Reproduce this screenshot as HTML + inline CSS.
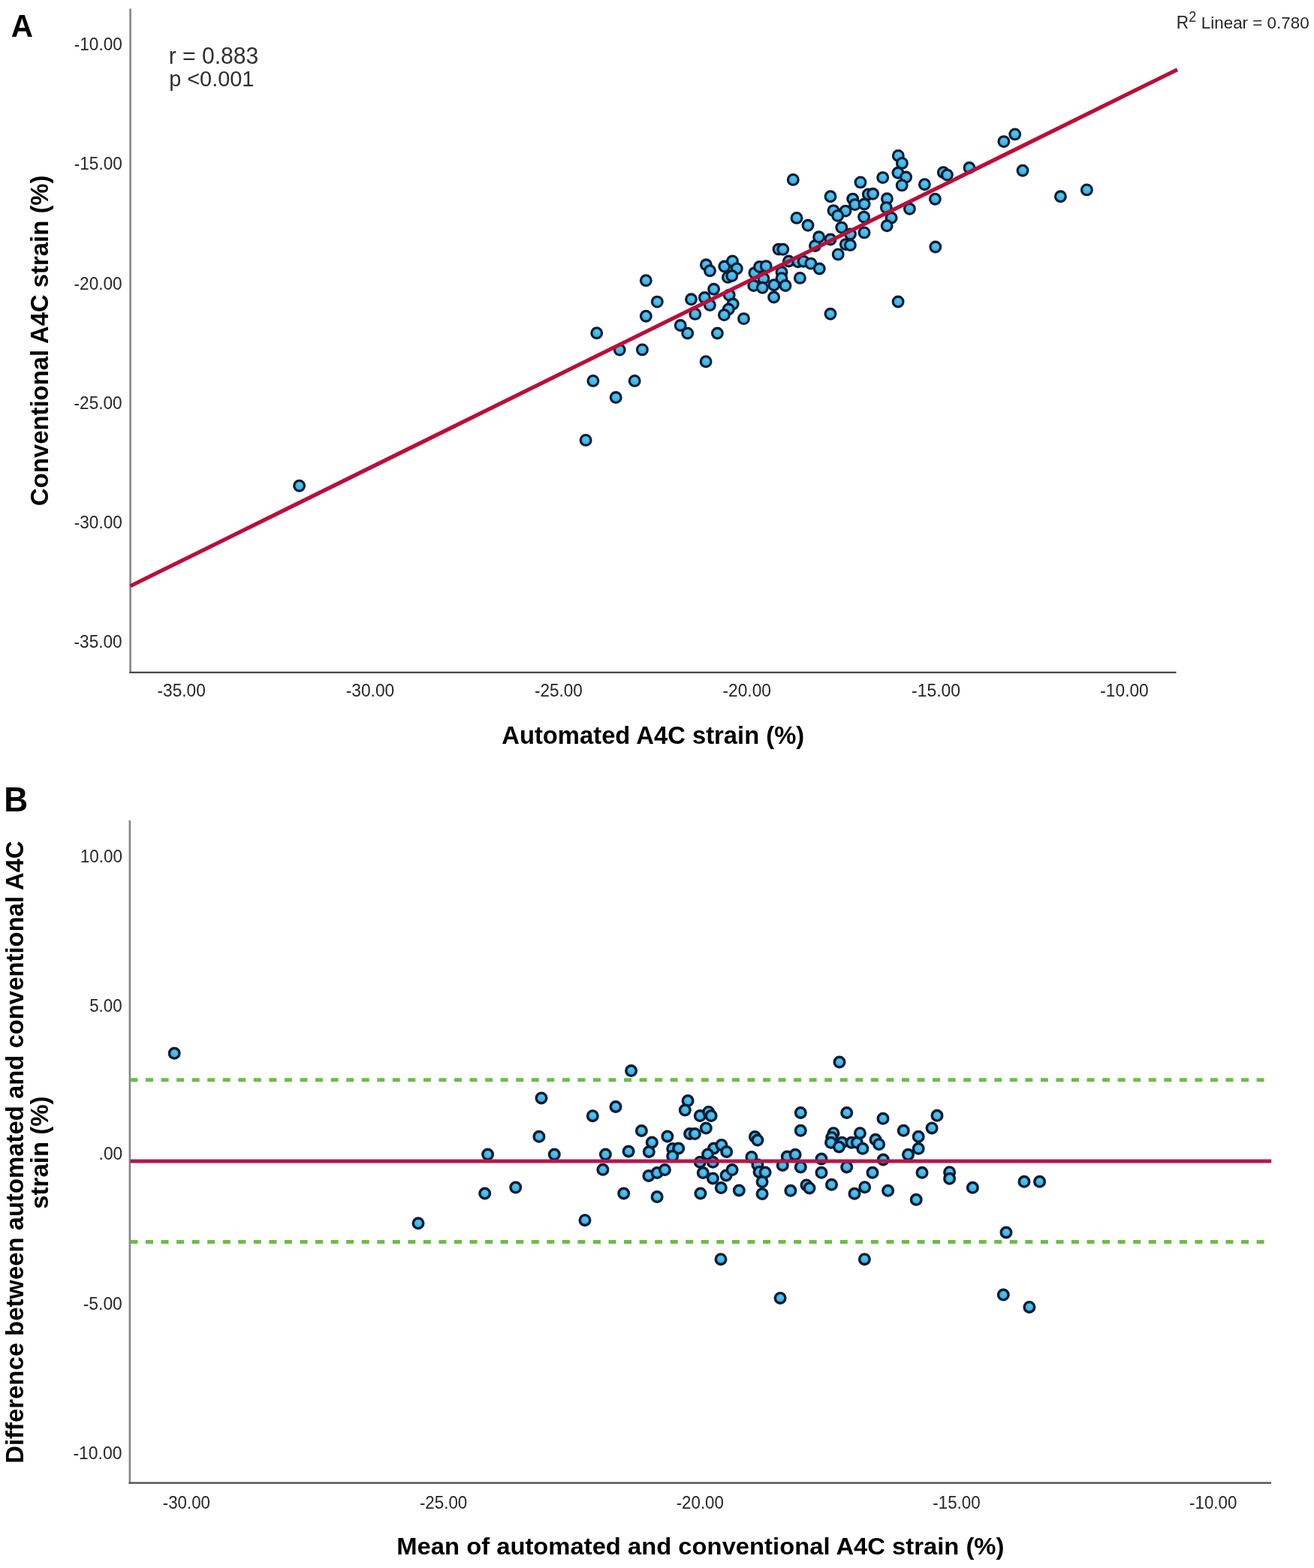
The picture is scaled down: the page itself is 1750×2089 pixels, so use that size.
<!DOCTYPE html>
<html><head><meta charset="utf-8"><title>Automated vs conventional A4C strain</title>
<style>
html,body{margin:0;padding:0;background:#fff;}
body{width:1750px;height:2089px;overflow:hidden;}
svg{display:block;}
svg text{font-family:'Liberation Sans', Arial, Helvetica, sans-serif;}
circle{fill:url(#dg);stroke:#071b33;stroke-width:3.1;}
circle.b{stroke-width:3.4;}
</style></head>
<body>
<svg width="1750" height="2089" viewBox="0 0 1750 2089">
<defs><radialGradient id="dg" cx="0.55" cy="0.38" r="0.62"><stop offset="0" stop-color="#55c7ef"/><stop offset="1" stop-color="#2fa8de"/></radialGradient></defs>
<rect width="1750" height="2089" fill="#fff"/>
<line x1="173.6" y1="11.5" x2="173.6" y2="897" stroke="#86868a" stroke-width="2.6"/>
<line x1="172.29999999999998" y1="895.9" x2="1566.5" y2="895.9" stroke="#48484c" stroke-width="2.2"/>
<circle cx="398.6" cy="647.2" r="6.9"/>
<circle cx="780.1" cy="586.4" r="6.9"/>
<circle cx="789.9" cy="507.4" r="6.9"/>
<circle cx="794.7" cy="443.7" r="6.9"/>
<circle cx="820.2" cy="529.5" r="6.9"/>
<circle cx="825.2" cy="466.1" r="6.9"/>
<circle cx="845.2" cy="507.4" r="6.9"/>
<circle cx="855.4" cy="465.9" r="6.9"/>
<circle cx="860.3" cy="373.7" r="6.9"/>
<circle cx="860.3" cy="421.2" r="6.9"/>
<circle cx="875.3" cy="402.1" r="6.9"/>
<circle cx="906.2" cy="433.5" r="6.9"/>
<circle cx="915.7" cy="444" r="6.9"/>
<circle cx="920.5" cy="398.8" r="6.9"/>
<circle cx="925.8" cy="418.4" r="6.9"/>
<circle cx="938.4" cy="396.5" r="6.9"/>
<circle cx="940.1" cy="481.7" r="6.9"/>
<circle cx="945.4" cy="406.5" r="6.9"/>
<circle cx="950.6" cy="385.3" r="6.9"/>
<circle cx="955.4" cy="444" r="6.9"/>
<circle cx="940.4" cy="352.8" r="6.9"/>
<circle cx="945.5" cy="360.7" r="6.9"/>
<circle cx="964.8" cy="355" r="6.9"/>
<circle cx="975.5" cy="347.9" r="6.9"/>
<circle cx="981.3" cy="357.9" r="6.9"/>
<circle cx="969.4" cy="369.4" r="6.9"/>
<circle cx="974.8" cy="367.5" r="6.9"/>
<circle cx="971.2" cy="393.1" r="6.9"/>
<circle cx="976.2" cy="405" r="6.9"/>
<circle cx="970.3" cy="412" r="6.9"/>
<circle cx="964.4" cy="419.6" r="6.9"/>
<circle cx="990.5" cy="424.6" r="6.9"/>
<circle cx="1004.9" cy="363.6" r="6.9"/>
<circle cx="1011.5" cy="355.5" r="6.9"/>
<circle cx="1020.2" cy="354.6" r="6.9"/>
<circle cx="1016.9" cy="371.1" r="6.9"/>
<circle cx="1003.8" cy="380.5" r="6.9"/>
<circle cx="1015.4" cy="383.3" r="6.9"/>
<circle cx="1030.8" cy="379.7" r="6.9"/>
<circle cx="1030.6" cy="396" r="6.9"/>
<circle cx="1041" cy="362.5" r="6.9"/>
<circle cx="1041" cy="370.7" r="6.9"/>
<circle cx="1046" cy="380.5" r="6.9"/>
<circle cx="1037" cy="332.1" r="6.9"/>
<circle cx="1042.8" cy="332.3" r="6.9"/>
<circle cx="1050.5" cy="348" r="6.9"/>
<circle cx="1062.7" cy="348.7" r="6.9"/>
<circle cx="1070.1" cy="348.2" r="6.9"/>
<circle cx="1079.8" cy="351.1" r="6.9"/>
<circle cx="1091.3" cy="358" r="6.9"/>
<circle cx="1065.4" cy="370.4" r="6.9"/>
<circle cx="1106" cy="418.3" r="6.9"/>
<circle cx="1116.2" cy="338.9" r="6.9"/>
<circle cx="1126.3" cy="325.6" r="6.9"/>
<circle cx="1132.4" cy="326.5" r="6.9"/>
<circle cx="1106" cy="319" r="6.9"/>
<circle cx="1085.5" cy="327.5" r="6.9"/>
<circle cx="1090.6" cy="315.8" r="6.9"/>
<circle cx="1061" cy="290.4" r="6.9"/>
<circle cx="1076" cy="300.3" r="6.9"/>
<circle cx="1056.3" cy="239.4" r="6.9"/>
<circle cx="1106" cy="261.7" r="6.9"/>
<circle cx="1146" cy="242.9" r="6.9"/>
<circle cx="1175.7" cy="236.6" r="6.9"/>
<circle cx="1196.3" cy="207.4" r="6.9"/>
<circle cx="1201.4" cy="217.4" r="6.9"/>
<circle cx="1195.9" cy="230.3" r="6.9"/>
<circle cx="1206.6" cy="236" r="6.9"/>
<circle cx="1201.2" cy="246.9" r="6.9"/>
<circle cx="1231.4" cy="245.7" r="6.9"/>
<circle cx="1245.4" cy="265.2" r="6.9"/>
<circle cx="1211.4" cy="278.3" r="6.9"/>
<circle cx="1181.4" cy="264.8" r="6.9"/>
<circle cx="1180.3" cy="276.6" r="6.9"/>
<circle cx="1187.1" cy="290.3" r="6.9"/>
<circle cx="1181.2" cy="300.8" r="6.9"/>
<circle cx="1156.3" cy="258.9" r="6.9"/>
<circle cx="1162.6" cy="258.3" r="6.9"/>
<circle cx="1135.7" cy="265.1" r="6.9"/>
<circle cx="1138.6" cy="272.6" r="6.9"/>
<circle cx="1151.1" cy="272" r="6.9"/>
<circle cx="1126" cy="281.1" r="6.9"/>
<circle cx="1110" cy="280.6" r="6.9"/>
<circle cx="1115.7" cy="287.4" r="6.9"/>
<circle cx="1150.6" cy="289.1" r="6.9"/>
<circle cx="1120.8" cy="303.1" r="6.9"/>
<circle cx="1151" cy="309.9" r="6.9"/>
<circle cx="1132.5" cy="311.9" r="6.9"/>
<circle cx="1245.8" cy="329" r="6.9"/>
<circle cx="1196.1" cy="402" r="6.9"/>
<circle cx="1256.3" cy="229.7" r="6.9"/>
<circle cx="1261.4" cy="233.1" r="6.9"/>
<circle cx="1291" cy="223.5" r="6.9"/>
<circle cx="1336.9" cy="188.6" r="6.9"/>
<circle cx="1351.7" cy="178.9" r="6.9"/>
<circle cx="1362" cy="227.2" r="6.9"/>
<circle cx="1412.4" cy="261.8" r="6.9"/>
<circle cx="1447.4" cy="252.9" r="6.9"/>
<line x1="173.6" y1="780.73" x2="1568" y2="92.73" stroke="#bb0e38" stroke-width="5.2"/>
<line x1="172.9" y1="1093" x2="172.9" y2="1977" stroke="#86868a" stroke-width="2.6"/>
<line x1="171.6" y1="1975.7" x2="1693" y2="1975.7" stroke="#48484c" stroke-width="2.2"/>
<line x1="173.45" y1="1438.8" x2="1683.6" y2="1438.8" stroke="#6cbd45" stroke-width="5" stroke-dasharray="10 10.55"/>
<line x1="173.45" y1="1654.5" x2="1683.6" y2="1654.5" stroke="#6cbd45" stroke-width="5" stroke-dasharray="10 10.55"/>
<circle class="b" cx="232.2" cy="1403.3" r="6.8"/>
<circle class="b" cx="557" cy="1629.8" r="6.8"/>
<circle class="b" cx="645.7" cy="1590" r="6.8"/>
<circle class="b" cx="649.6" cy="1538.1" r="6.8"/>
<circle class="b" cx="686.7" cy="1582.1" r="6.8"/>
<circle class="b" cx="717.9" cy="1514.3" r="6.8"/>
<circle class="b" cx="721" cy="1462.9" r="6.8"/>
<circle class="b" cx="738.3" cy="1538.1" r="6.8"/>
<circle class="b" cx="779" cy="1625.7" r="6.8"/>
<circle class="b" cx="789.3" cy="1486.7" r="6.8"/>
<circle class="b" cx="802.9" cy="1558.3" r="6.8"/>
<circle class="b" cx="806.4" cy="1538.1" r="6.8"/>
<circle class="b" cx="820" cy="1474.5" r="6.8"/>
<circle class="b" cx="830.7" cy="1590" r="6.8"/>
<circle class="b" cx="837.1" cy="1534" r="6.8"/>
<circle class="b" cx="840.6" cy="1426.6" r="6.8"/>
<circle class="b" cx="854.4" cy="1506.5" r="6.8"/>
<circle class="b" cx="864.3" cy="1534.5" r="6.8"/>
<circle class="b" cx="868.3" cy="1522" r="6.8"/>
<circle class="b" cx="863.9" cy="1566.5" r="6.8"/>
<circle class="b" cx="875.1" cy="1562.6" r="6.8"/>
<circle class="b" cx="885.4" cy="1558.6" r="6.8"/>
<circle class="b" cx="875.1" cy="1594.6" r="6.8"/>
<circle class="b" cx="888.9" cy="1514" r="6.8"/>
<circle class="b" cx="895.7" cy="1530.6" r="6.8"/>
<circle class="b" cx="903.7" cy="1530" r="6.8"/>
<circle class="b" cx="895.7" cy="1540.3" r="6.8"/>
<circle class="b" cx="916.1" cy="1466.6" r="6.8"/>
<circle class="b" cx="912.3" cy="1479.1" r="6.8"/>
<circle class="b" cx="932.3" cy="1486.6" r="6.8"/>
<circle class="b" cx="943.7" cy="1481.4" r="6.8"/>
<circle class="b" cx="947.1" cy="1486.6" r="6.8"/>
<circle class="b" cx="940.3" cy="1503.1" r="6.8"/>
<circle class="b" cx="918.6" cy="1510.6" r="6.8"/>
<circle class="b" cx="925.4" cy="1510.6" r="6.8"/>
<circle class="b" cx="950.6" cy="1530" r="6.8"/>
<circle class="b" cx="960.9" cy="1525.4" r="6.8"/>
<circle class="b" cx="967.7" cy="1534.6" r="6.8"/>
<circle class="b" cx="942.6" cy="1538" r="6.8"/>
<circle class="b" cx="949.4" cy="1548.3" r="6.8"/>
<circle class="b" cx="932.3" cy="1548.3" r="6.8"/>
<circle class="b" cx="936.3" cy="1562.6" r="6.8"/>
<circle class="b" cx="949.4" cy="1570" r="6.8"/>
<circle class="b" cx="967.1" cy="1566" r="6.8"/>
<circle class="b" cx="975.1" cy="1558.6" r="6.8"/>
<circle class="b" cx="960.3" cy="1582.6" r="6.8"/>
<circle class="b" cx="984.3" cy="1586" r="6.8"/>
<circle class="b" cx="932.9" cy="1590" r="6.8"/>
<circle class="b" cx="960" cy="1677.7" r="6.8"/>
<circle class="b" cx="1005.4" cy="1514.6" r="6.8"/>
<circle class="b" cx="1008.9" cy="1519.1" r="6.8"/>
<circle class="b" cx="1000.9" cy="1541.4" r="6.8"/>
<circle class="b" cx="1008.9" cy="1551.7" r="6.8"/>
<circle class="b" cx="1011.1" cy="1561.4" r="6.8"/>
<circle class="b" cx="1019.1" cy="1562" r="6.8"/>
<circle class="b" cx="1015.1" cy="1574.6" r="6.8"/>
<circle class="b" cx="1015.1" cy="1590.6" r="6.8"/>
<circle class="b" cx="1039.1" cy="1729.4" r="6.8"/>
<circle class="b" cx="1048.3" cy="1541" r="6.8"/>
<circle class="b" cx="1042.3" cy="1552.5" r="6.8"/>
<circle class="b" cx="1059.1" cy="1538.3" r="6.8"/>
<circle class="b" cx="1066.3" cy="1482.5" r="6.8"/>
<circle class="b" cx="1066.3" cy="1506.3" r="6.8"/>
<circle class="b" cx="1066.3" cy="1554.9" r="6.8"/>
<circle class="b" cx="1052.9" cy="1586.3" r="6.8"/>
<circle class="b" cx="1074" cy="1578.9" r="6.8"/>
<circle class="b" cx="1078" cy="1582.9" r="6.8"/>
<circle class="b" cx="1094" cy="1544" r="6.8"/>
<circle class="b" cx="1094" cy="1562.3" r="6.8"/>
<circle class="b" cx="1107.5" cy="1578.3" r="6.8"/>
<circle class="b" cx="1110" cy="1509.7" r="6.8"/>
<circle class="b" cx="1107.7" cy="1515.4" r="6.8"/>
<circle class="b" cx="1106.6" cy="1522.3" r="6.8"/>
<circle class="b" cx="1121.4" cy="1522.3" r="6.8"/>
<circle class="b" cx="1117.4" cy="1528" r="6.8"/>
<circle class="b" cx="1118" cy="1415.1" r="6.8"/>
<circle class="b" cx="1127.7" cy="1482.5" r="6.8"/>
<circle class="b" cx="1127.7" cy="1554.9" r="6.8"/>
<circle class="b" cx="1134" cy="1522.3" r="6.8"/>
<circle class="b" cx="1141.4" cy="1522.3" r="6.8"/>
<circle class="b" cx="1145.4" cy="1509.7" r="6.8"/>
<circle class="b" cx="1148.9" cy="1530.3" r="6.8"/>
<circle class="b" cx="1138" cy="1590.3" r="6.8"/>
<circle class="b" cx="1151.7" cy="1581.7" r="6.8"/>
<circle class="b" cx="1151.4" cy="1677.7" r="6.8"/>
<circle class="b" cx="1162" cy="1562.3" r="6.8"/>
<circle class="b" cx="1166" cy="1518.3" r="6.8"/>
<circle class="b" cx="1170.6" cy="1524.6" r="6.8"/>
<circle class="b" cx="1176" cy="1490.3" r="6.8"/>
<circle class="b" cx="1176.3" cy="1545.1" r="6.8"/>
<circle class="b" cx="1182.6" cy="1586.3" r="6.8"/>
<circle class="b" cx="1203.3" cy="1506.3" r="6.8"/>
<circle class="b" cx="1209.5" cy="1538.3" r="6.8"/>
<circle class="b" cx="1220.2" cy="1598.3" r="6.8"/>
<circle class="b" cx="1223.2" cy="1514.3" r="6.8"/>
<circle class="b" cx="1223.2" cy="1530.3" r="6.8"/>
<circle class="b" cx="1228" cy="1562.3" r="6.8"/>
<circle class="b" cx="1241.1" cy="1502.9" r="6.8"/>
<circle class="b" cx="1248" cy="1486.3" r="6.8"/>
<circle class="b" cx="1264.6" cy="1561.7" r="6.8"/>
<circle class="b" cx="1264.6" cy="1570.3" r="6.8"/>
<circle class="b" cx="1295.4" cy="1582.3" r="6.8"/>
<circle class="b" cx="1336.3" cy="1725.1" r="6.8"/>
<circle class="b" cx="1340" cy="1642" r="6.8"/>
<circle class="b" cx="1364" cy="1574.3" r="6.8"/>
<circle class="b" cx="1370.9" cy="1741.4" r="6.8"/>
<circle class="b" cx="1384.6" cy="1574.3" r="6.8"/>
<line x1="173.6" y1="1547" x2="1693.2" y2="1547" stroke="#b5174a" stroke-width="5.2"/>
<text id="lblA" x="14.65" y="48.85" font-size="42.93" font-weight="bold" fill="#000" textLength="29.19" lengthAdjust="spacingAndGlyphs">A</text>
<text id="lblB" x="5.25" y="1081.05" font-size="46.32" font-weight="bold" fill="#000" textLength="31.99" lengthAdjust="spacingAndGlyphs">B</text>
<text id="r" x="224.65" y="84.81" font-size="32.03" fill="#303030" textLength="119.70" lengthAdjust="spacingAndGlyphs">r = 0.883</text>
<text id="p" x="225.15" y="115.15" font-size="30.14" fill="#303030" textLength="113.18" lengthAdjust="spacingAndGlyphs">p &lt;0.001</text>
<text id="R" x="1566.65" y="37.85" font-size="23.35" fill="#262626" textLength="16.26" lengthAdjust="spacingAndGlyphs">R</text>
<text id="R2" x="1583.26" y="29.23" font-size="20.70" fill="#262626" textLength="9.98" lengthAdjust="spacingAndGlyphs">2</text>
<text id="Lin" x="1599.84" y="38.27" font-size="22.48" fill="#262626" textLength="143.78" lengthAdjust="spacingAndGlyphs">Linear = 0.780</text>
<text id="ya0" x="98.75" y="67.20" font-size="23.83" fill="#262626" textLength="64.03" lengthAdjust="spacingAndGlyphs">-10.00</text>
<text id="ya1" x="98.75" y="225.95" font-size="23.83" fill="#262626" textLength="64.03" lengthAdjust="spacingAndGlyphs">-15.00</text>
<text id="ya2" x="98.60" y="385.85" font-size="23.94" fill="#262626" textLength="64.03" lengthAdjust="spacingAndGlyphs">-20.00</text>
<text id="ya3" x="98.60" y="545.45" font-size="23.94" fill="#262626" textLength="64.03" lengthAdjust="spacingAndGlyphs">-25.00</text>
<text id="ya4" x="98.75" y="703.95" font-size="23.83" fill="#262626" textLength="64.03" lengthAdjust="spacingAndGlyphs">-30.00</text>
<text id="ya5" x="98.60" y="863.25" font-size="23.94" fill="#262626" textLength="64.03" lengthAdjust="spacingAndGlyphs">-35.00</text>
<text id="xa0" x="209.55" y="928.20" font-size="23.29" fill="#262626" textLength="64.25" lengthAdjust="spacingAndGlyphs">-35.00</text>
<text id="xa1" x="460.65" y="928.05" font-size="23.56" fill="#262626" textLength="64.59" lengthAdjust="spacingAndGlyphs">-30.00</text>
<text id="xa2" x="711.89" y="927.80" font-size="24.01" fill="#262626" textLength="64.04" lengthAdjust="spacingAndGlyphs">-25.00</text>
<text id="xa3" x="962.45" y="928.05" font-size="23.56" fill="#262626" textLength="64.55" lengthAdjust="spacingAndGlyphs">-20.00</text>
<text id="xa4" x="1214.03" y="927.80" font-size="24.01" fill="#262626" textLength="65.07" lengthAdjust="spacingAndGlyphs">-15.00</text>
<text id="xa5" x="1465.29" y="928.20" font-size="23.29" fill="#262626" textLength="64.48" lengthAdjust="spacingAndGlyphs">-10.00</text>
<text id="Axt" x="668.25" y="990.73" font-size="32.39" font-weight="bold" fill="#000" textLength="403.00" lengthAdjust="spacingAndGlyphs">Automated A4C strain (%)</text>
<text id="Ayl" transform="translate(63.50,673.90) rotate(-90)" x="0" y="0" font-size="32.73" font-weight="bold" fill="#000" textLength="440.38" lengthAdjust="spacingAndGlyphs">Conventional A4C strain (%)</text>
<text id="yb0" x="106.90" y="1149.45" font-size="23.94" fill="#262626" textLength="56.12" lengthAdjust="spacingAndGlyphs">10.00</text>
<text id="yb1" x="119.15" y="1348.45" font-size="23.94" fill="#262626" textLength="43.42" lengthAdjust="spacingAndGlyphs">5.00</text>
<text id="yb2" x="131.60" y="1545.49" font-size="23.63" fill="#262626" textLength="31.67" lengthAdjust="spacingAndGlyphs">.00</text>
<text id="yb3" x="110.69" y="1744.65" font-size="23.76" fill="#262626" textLength="52.14" lengthAdjust="spacingAndGlyphs">-5.00</text>
<text id="yb4" x="97.40" y="1944.05" font-size="23.94" fill="#262626" textLength="65.07" lengthAdjust="spacingAndGlyphs">-10.00</text>
<text id="xb0" x="216.83" y="2009.89" font-size="24.07" fill="#262626" textLength="63.11" lengthAdjust="spacingAndGlyphs">-30.00</text>
<text id="xb1" x="558.95" y="2009.85" font-size="23.77" fill="#262626" textLength="63.31" lengthAdjust="spacingAndGlyphs">-25.00</text>
<text id="xb2" x="900.65" y="2009.85" font-size="23.77" fill="#262626" textLength="63.31" lengthAdjust="spacingAndGlyphs">-20.00</text>
<text id="xb3" x="1242.35" y="2009.85" font-size="23.77" fill="#262626" textLength="63.28" lengthAdjust="spacingAndGlyphs">-15.00</text>
<text id="xb4" x="1584.05" y="2009.85" font-size="23.77" fill="#262626" textLength="63.28" lengthAdjust="spacingAndGlyphs">-10.00</text>
<text id="Bxt" x="528.27" y="2071.19" font-size="32.21" font-weight="bold" fill="#000" textLength="809.11" lengthAdjust="spacingAndGlyphs">Mean of automated and conventional A4C strain (%)</text>
<text id="Byl1" transform="translate(31.16,1949.74) rotate(-90)" x="0" y="0" font-size="33.71" font-weight="bold" fill="#000" textLength="829.48" lengthAdjust="spacingAndGlyphs">Difference between automated and conventional A4C</text>
<text id="Byl2" transform="translate(64.25,1610.80) rotate(-90)" x="0" y="0" font-size="33.50" font-weight="bold" fill="#000" textLength="150.41" lengthAdjust="spacingAndGlyphs">strain (%)</text>
</svg>
</body></html>
